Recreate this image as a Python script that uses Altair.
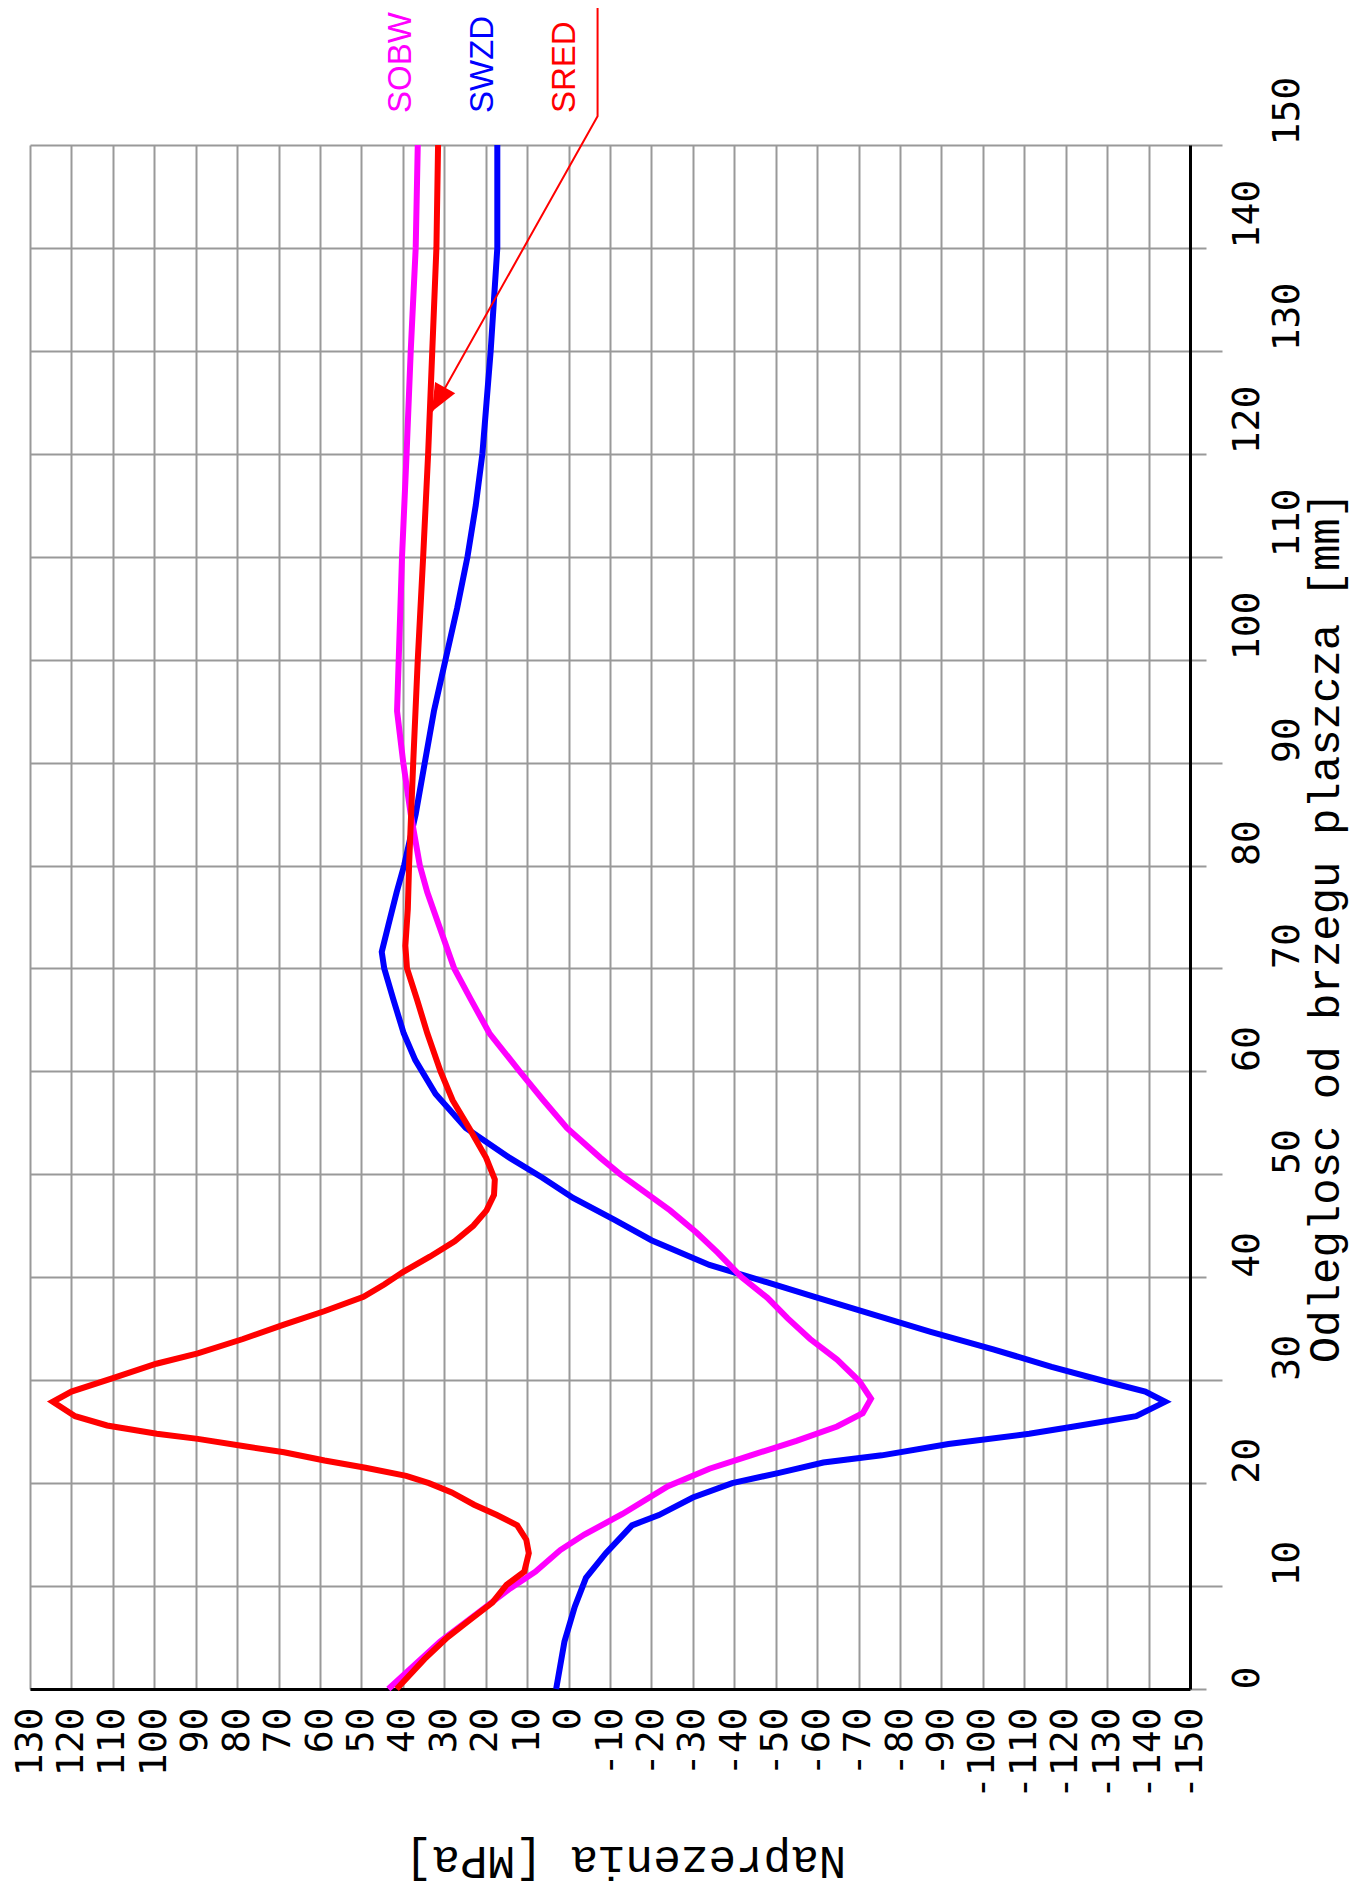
import altair as alt
import pandas as pd

# ---------------- data ----------------
# distance from the shell edge [mm] and stress [MPa]
sobw_d = [0, 4.6, 9.8, 11.4, 13.5, 15, 17, 19.7, 21.4, 22.7, 24.1, 25.5, 26.8, 28.2, 29.9,
          32, 34, 36, 38, 40, 42.4, 44.3, 46.5, 50, 51.6, 54.5, 57.2, 60, 63.7, 67, 70, 74.2,
          77.4, 80, 85, 90, 95, 100, 110, 120, 130, 140, 150]
sobw_s = [43.5, 31, 14, 8, 2, -3.8, -13, -24, -34, -44, -55, -64.8, -71, -73, -70.2,
          -64.8, -58.3, -52.9, -48, -41.8, -36, -31, -24.5, -12.5, -7.7, 0.4, 6.1, 11.8, 19.1, 23.6, 27.6, 31.3,
          34.1, 35.9, 38.1, 39.9, 41.4, 41, 40.2, 39.1, 38.1, 36.9, 36.4]

swzd_d = [0, 4.6, 8, 10.8, 13.2, 15.9, 16.9, 18.6, 20, 21, 22, 22.7, 23.8, 24.8, 25.5, 26.5,
          27.9, 28.9, 29.9, 31.3, 33, 34.7, 36.4, 38.1, 39.5, 41.2, 43.6, 45.6, 47.7, 49.7,
          51.6, 54.5, 57.8, 61.1, 63.7, 67, 70, 71.6, 74.2, 77.4, 80, 85, 90, 95, 100,
          105, 110, 115, 120, 125, 130, 135, 140, 150]
swzd_s = [3, 1, -1.5, -4.2, -9, -15.3, -21.8, -30, -39.5, -50.8, -61.5, -75.6, -91.7, -111.2, -122, -137,
          -144, -139.2, -129.5, -116.6, -102.5, -87.4, -73.4, -59.4, -48, -34, -20, -11, -1.1, 6.4,
          14.2, 24.8, 32.1, 37, 39.8, 42.3, 44.5, 45.1, 43.5, 41.5, 39.7, 36.9, 34.7, 32.5, 29.7,
          26.9, 24.4, 22.4, 20.8, 19.8, 18.8, 18, 17.2, 17.2]

sred_d = [0, 2.9, 5.0, 6.7, 8.4, 10.1, 11.4, 13.2, 14.5, 15.9, 16.9, 17.9, 19.1, 20.0, 20.7,
          21.5, 22.2, 23.0, 23.6, 24.3, 24.8, 25.6, 26.5, 27.9, 28.9, 30.2, 31.6, 32.6, 34.0,
          35.4, 36.7, 38.1, 39.3, 40.5, 42.0, 43.5, 45.0, 46.5, 48.0, 49.5, 51.6, 54.5, 57.2,
          60, 63.7, 67, 70, 72.2, 75.8, 80, 90, 100, 110, 120, 130, 140, 150]
sred_s = [41.5, 34.8, 29.3, 23.9, 18.4, 15, 10.7, 9.6, 10.2, 12.4, 17.3, 22.8, 28.2, 33.7, 39.2,
          49, 58.9, 68.7, 78.6, 89.5, 99.4, 111.4, 119.1, 124.5, 120, 110, 99.5, 89.5, 78.6,
          68.7, 59, 49.5, 44.5, 40, 33.5, 27.5, 23, 19.8, 18, 17.8, 19.9, 24, 28,
          30.9, 34.1, 36.6, 39, 39.4, 38.8, 38.5, 37.5, 36.4, 35.1, 33.9, 32.9, 31.9, 31.5]

series_names = ["SOBW", "SWZD", "SRED"]
series_colors = ["#ff00ff", "#0000ff", "#ff0000"]

stress_ticks = list(range(-150, 131, 10))
dist_ticks = list(range(0, 151, 10))

# leader arrow for the SRED label (in data units)
arrow_s = [-7, -7, 33.0]
arrow_d = [163.5, 152.8, 124.1]

x_title = "Naprezenia [MPa]"
y_title = "Odleglosc od brzegu plaszcza [mm]"

W, H = 1160, 1544


def frame(ds, ss):
    return pd.DataFrame({"d": ds, "s": ss, "i": list(range(len(ds)))})


xscale = alt.Scale(domain=[-150, 130], reverse=True, nice=False, zero=False)
yscale = alt.Scale(domain=[0, 150], nice=False, zero=False)

xaxis = alt.Axis(
    values=stress_ticks, orient="bottom", title=x_title,
    labelAngle=270, labelAlign="right", labelBaseline="middle", labelPadding=18,
    labelFont="DejaVu Sans Mono", labelFontSize=38, labelColor="black",
    labelExpr="'' + datum.value", labelOverlap=False, labelFlush=False, labelBound=False,
    ticks=False, grid=True, gridColor="#999999", gridWidth=2, gridOpacity=1,
    domainColor="black", domainWidth=3,
    titleFont="Liberation Mono", titleFontSize=46, titleFontWeight="normal", titleColor="black",
    titleAngle=180, titleAlign="center", titleBaseline="middle", titleX=595, titleY=171,
)

yaxis = alt.Axis(
    values=dist_ticks, orient="right", title=y_title,
    labelAngle=270, labelAlign="left", labelBaseline="top",
    labelPadding={"condition": {"test": "datum.value % 20 != 0", "value": 46}, "value": 22},
    labelFont="DejaVu Sans Mono", labelFontSize=38, labelColor="black",
    labelOverlap=False, labelFlush=False, labelBound=False,
    ticks=True, tickColor="#999999", tickWidth=2,
    tickSize={"condition": {"test": "datum.value % 20 != 0", "value": 32}, "value": 16},
    grid=True, gridColor="#999999", gridWidth=2, gridOpacity=1,
    domainColor="black", domainWidth=3,
    titleFont="Liberation Mono", titleFontSize=44, titleFontWeight="normal", titleColor="black",
    titleAngle=270, titleAlign="center", titleBaseline="middle", titleX=135, titleY=782,
)


def curve(ds, ss, color):
    return alt.Chart(frame(ds, ss)).mark_line(color=color, strokeWidth=6, interpolate="linear").encode(
        x=alt.X("s:Q", scale=xscale, axis=xaxis),
        y=alt.Y("d:Q", scale=yscale, axis=yaxis),
        order=alt.Order("i:Q"),
    )


blue = curve(swzd_d, swzd_s, series_colors[1])
magenta = curve(sobw_d, sobw_s, series_colors[0])
red = curve(sred_d, sred_s, series_colors[2])

arrow_df = frame(arrow_d, arrow_s)
arrow_line = alt.Chart(arrow_df).mark_line(color="#ff0000", strokeWidth=2).encode(
    x=alt.X("s:Q", scale=xscale, axis=xaxis),
    y=alt.Y("d:Q", scale=yscale, axis=yaxis),
    order=alt.Order("i:Q"),
)
arrow_head = alt.Chart(arrow_df.tail(1)).mark_point(
    shape="M0,0 L-0.42,1 L0.42,1 Z", filled=True, size=3000, angle=209,
    color="#ff0000", opacity=1, strokeWidth=0,
).encode(
    x=alt.X("s:Q", scale=xscale, axis=xaxis),
    y=alt.Y("d:Q", scale=yscale, axis=yaxis),
)

legend_x = [371, 453, 535]
labels = []
for name, col, px in zip(series_names, series_colors, legend_x):
    labels.append(
        alt.Chart(pd.DataFrame({"t": [name]})).mark_text(
            angle=270, align="left", baseline="middle",
            font="Liberation Sans", fontSize=33, color=col,
        ).encode(x=alt.value(px), y=alt.value(-32), text="t:N")
    )

chart = alt.layer(blue, magenta, red, arrow_line, arrow_head, *labels).properties(
    width=W, height=H,
    autosize=alt.AutoSizeParams(type="none"),
    padding={"left": 22, "top": 137, "right": 162, "bottom": 197},
    background="white",
).configure_view(stroke="transparent")

chart.save("out.html", embed_options={"renderer": "svg", "actions": False})
